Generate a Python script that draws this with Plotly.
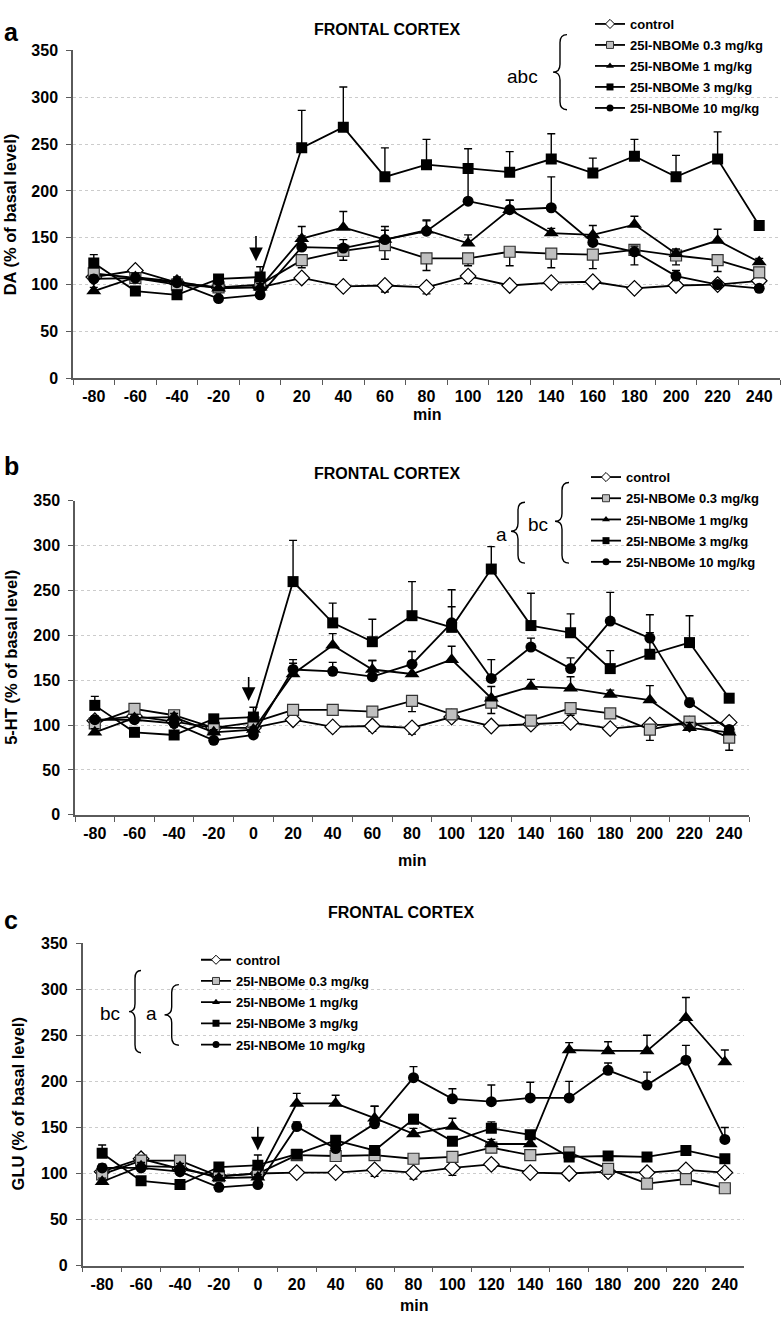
import plotly.graph_objects as go

W, H = 782, 1324

# ---------------- data ----------------
minutes = ["-80", "-60", "-40", "-20", "0", "20", "40", "60", "80", "100",
           "120", "140", "160", "180", "200", "220", "240"]
series_names = ["control", "25I-NBOMe 0.3 mg/kg", "25I-NBOMe 1 mg/kg",
                "25I-NBOMe 3 mg/kg", "25I-NBOMe 10 mg/kg"]

# Panel a: DA
da_control = [108, 115, 102, 97, 97, 107, 98, 99, 97, 109, 99, 102, 103, 96, 99, 100, 104]
da_control_err = [4, 4, 3, 3, 3, 3, 4, 7, 7, 8, 4, 4, 4, 4, 3, 3, 4]
da_03 = [112, 107, 100, 97, 100, 126, 136, 142, 128, 128, 135, 133, 132, 137, 131, 126, 113]
da_03_err = [4, 4, 4, 3, 4, 8, 10, 15, 13, 8, 15, 15, 15, 16, 10, 12, 5]
da_1 = [93, 108, 103, 96, 97, 149, 161, 148, 158, 144, 180, 155, 153, 164, 133, 147, 124]
da_1_err = [4, 4, 5, 4, 4, 13, 17, 10, 10, 9, 10, 5, 10, 9, 5, 12, 4]
da_3 = [123, 93, 89, 106, 108, 246, 268, 215, 228, 224, 220, 234, 219, 237, 215, 234, 163]
da_3_err = [9, 3, 4, 3, 11, 40, 43, 31, 27, 21, 22, 27, 16, 18, 23, 29, 3]
da_10 = [106, 107, 102, 85, 89, 140, 139, 148, 157, 189, 180, 182, 145, 135, 109, 100, 96]
da_10_err = [4, 4, 4, 3, 3, 12, 9, 14, 12, 30, 10, 33, 6, 6, 6, 3, 3]

# Panel b: 5-HT
ht_control = [105, 110, 104, 97, 97, 106, 98, 99, 97, 109, 99, 101, 103, 96, 100, 101, 103]
ht_control_err = [4, 4, 4, 3, 3, 3, 5, 6, 7, 4, 3, 4, 4, 4, 3, 3, 3]
ht_03 = [102, 118, 111, 97, 103, 117, 117, 115, 127, 112, 125, 105, 119, 113, 95, 104, 86]
ht_03_err = [4, 4, 4, 3, 4, 5, 5, 5, 12, 5, 12, 5, 8, 5, 12, 6, 14]
ht_1 = [92, 108, 109, 92, 95, 157, 189, 162, 157, 173, 130, 143, 141, 134, 128, 97, 92]
ht_1_err = [4, 4, 4, 3, 3, 12, 13, 10, 10, 15, 13, 8, 13, 5, 16, 6, 4]
ht_3 = [122, 92, 89, 107, 109, 260, 214, 193, 222, 209, 274, 211, 203, 163, 179, 192, 130]
ht_3_err = [10, 3, 3, 3, 11, 46, 22, 25, 38, 23, 25, 36, 21, 20, 24, 30, 3]
ht_10 = [106, 106, 102, 83, 89, 162, 160, 154, 168, 214, 152, 187, 163, 216, 197, 125, 95]
ht_10_err = [4, 4, 4, 3, 3, 11, 10, 18, 14, 37, 21, 10, 12, 32, 26, 5, 4]

# Panel c: GLU
glu_control = [102, 116, 105, 97, 100, 101, 101, 104, 101, 106, 110, 101, 100, 102, 101, 104, 101]
glu_control_err = [4, 4, 4, 3, 3, 3, 3, 7, 7, 8, 5, 4, 5, 5, 3, 3, 5]
glu_03 = [99, 114, 114, 97, 100, 120, 119, 120, 116, 118, 128, 120, 123, 105, 89, 94, 84]
glu_03_err = [4, 4, 4, 3, 4, 3, 3, 3, 3, 3, 3, 3, 3, 3, 3, 3, 3]
glu_1 = [91, 108, 107, 95, 96, 176, 176, 160, 143, 151, 132, 132, 234, 233, 233, 269, 221]
glu_1_err = [4, 4, 4, 3, 3, 11, 9, 13, 6, 9, 5, 5, 8, 10, 17, 22, 13]
glu_3 = [122, 92, 88, 107, 109, 121, 136, 125, 159, 135, 149, 142, 118, 119, 118, 125, 116]
glu_3_err = [9, 3, 3, 3, 11, 3, 4, 4, 5, 4, 7, 4, 3, 3, 3, 3, 3]
glu_10 = [106, 106, 102, 85, 88, 151, 127, 154, 204, 181, 178, 182, 182, 212, 196, 223, 137]
glu_10_err = [4, 4, 4, 3, 3, 5, 5, 19, 12, 11, 18, 17, 18, 8, 14, 16, 13]

y_ticks = [0, 50, 100, 150, 200, 250, 300, 350]

# ---------------- styling ----------------
FONT = "Liberation Sans, Arial, Helvetica, sans-serif"
styles = [
    dict(symbol="diamond", color="white", size=12, line=dict(color="black", width=1.2)),
    dict(symbol="square", color="#c0c0c0", size=11, line=dict(color="#333333", width=1.2)),
    dict(symbol="triangle-up", color="black", size=13, line=dict(color="black", width=0)),
    dict(symbol="square", color="black", size=11, line=dict(color="black", width=0)),
    dict(symbol="circle", color="black", size=11, line=dict(color="black", width=0)),
]
legend_styles = [
    dict(symbol="diamond", color="white", size=7, line=dict(color="black", width=1)),
    dict(symbol="square", color="#c0c0c0", size=7, line=dict(color="#333333", width=1)),
    dict(symbol="triangle-up", color="black", size=7, line=dict(color="black", width=0)),
    dict(symbol="square", color="black", size=7, line=dict(color="black", width=0)),
    dict(symbol="circle", color="black", size=7, line=dict(color="black", width=0)),
]
# error direction: control and 0.3 go down, others go up
err_down = [True, True, False, False, False]


def px2x(px):
    return px / W


def py2y(py):
    return 1 - py / H


panels = [
    dict(vals=[da_control, da_03, da_1, da_3, da_10],
         errs=[da_control_err, da_03_err, da_1_err, da_3_err, da_10_err],
         xd=(73, 780), yd=(43, 375), ytitle="DA (% of basal level)",
         legend="legend", leg_x=590, leg_y=1, leg_gap=20.6),
    dict(vals=[ht_control, ht_03, ht_1, ht_3, ht_10],
         errs=[ht_control_err, ht_03_err, ht_1_err, ht_3_err, ht_10_err],
         xd=(75, 749), yd=(499.3, 817.3), ytitle="5-HT (% of basal level)",
         legend="legend2", leg_x=586, leg_y=460, leg_gap=20.8),
    dict(vals=[glu_control, glu_03, glu_1, glu_3, glu_10],
         errs=[glu_control_err, glu_03_err, glu_1_err, glu_3_err, glu_10_err],
         xd=(82.7, 744.3), yd=(947.3, 1274), ytitle="GLU (% of basal level)",
         legend="legend3", leg_x=196, leg_y=949, leg_gap=20.8),
]

fig = go.Figure()
layout = dict(
    width=W, height=H, margin=dict(l=0, r=0, t=0, b=0),
    paper_bgcolor="white", plot_bgcolor="white",
    font=dict(family=FONT, color="black"),
    shapes=[], annotations=[],
)

for pi, p in enumerate(panels):
    sfx = "" if pi == 0 else str(pi + 1)
    xa, ya = "x" + sfx, "y" + sfx
    for si in range(5):
        st = styles[si]
        e = p["errs"][si]
        if err_down[si]:
            err = dict(type="data", symmetric=False, array=[0] * len(e), arrayminus=e,
                       color="black", thickness=1.4, width=4)
        else:
            err = dict(type="data", symmetric=False, array=e, arrayminus=[0] * len(e),
                       color="black", thickness=1.4, width=4)
        fig.add_trace(go.Scatter(
            x=minutes, y=p["vals"][si], mode="lines+markers",
            line=dict(color="black", width=1.8),
            marker=st, error_y=err, xaxis=xa, yaxis=ya, showlegend=False,
        ))
    # legend entries
    for si in range(5):
        fig.add_trace(go.Scatter(
            x=[None], y=[None], mode="lines+markers", name=series_names[si],
            line=dict(color="black", width=1.8), marker=legend_styles[si],
            xaxis=xa, yaxis=ya, showlegend=True, legend=p["legend"],
            legendgroup=p["legend"] + str(si),
        ))
    x0, x1 = p["xd"]
    y0, y1 = p["yd"]
    layout["xaxis" + sfx] = dict(
        domain=[px2x(x0), px2x(x1)], anchor=ya, type="category",
        categoryorder="array", categoryarray=minutes, range=[-0.5, 16.5],
        showline=True, linecolor="#5a5a5a", linewidth=1.5, mirror=False,
        ticks="outside", ticklen=5, tickwidth=1.2, tickcolor="#5a5a5a",
        tickson="boundaries", showgrid=False, zeroline=False,
        tickfont=dict(family=FONT, size=16, weight="bold", color="black"),
        ticklabelstandoff=3, fixedrange=True,
    )
    layout["yaxis" + sfx] = dict(
        domain=[py2y(y1), py2y(y0)], anchor=xa, range=[0, 350],
        tickvals=y_ticks, showline=True, linecolor="#5a5a5a", linewidth=1.5,
        ticks="outside", ticklen=5, tickwidth=1.2, tickcolor="#5a5a5a",
        showgrid=True, gridcolor="#cccccc", gridwidth=1, griddash="dot",
        zeroline=False,
        tickfont=dict(family=FONT, size=16, weight="bold", color="black"),
        ticklabelstandoff=5, fixedrange=True,
    )
    layout[p["legend"]] = dict(
        x=px2x(p["leg_x"]), y=py2y(p["leg_y"]), xanchor="left", yanchor="top",
        xref="paper", yref="paper", bgcolor="rgba(0,0,0,0)", borderwidth=0,
        font=dict(family=FONT, size=13, weight="bold", color="black"),
        itemwidth=30, tracegroupgap=p["leg_gap"] - 19.5, itemsizing="trace",
    )
    # y title
    layout["annotations"].append(dict(
        text=p["ytitle"], textangle=-90, xref="paper", yref="paper",
        x=px2x([10, 11, 18][pi]), y=py2y((y0 + y1) / 2), showarrow=False,
        font=dict(family=FONT, size=16.5, weight="bold"), xanchor="center", yanchor="middle",
    ))
    # x title
    layout["annotations"].append(dict(
        text="min", xref="paper", yref="paper",
        x=px2x([427, 412, 414][pi]), y=py2y([412, 864, 1314][pi]), showarrow=False,
        font=dict(family=FONT, size=16, weight="bold"), xanchor="center", yanchor="middle",
    ))
    # panel title
    layout["annotations"].append(dict(
        text="FRONTAL CORTEX", xref="paper", yref="paper",
        x=px2x([386.7, 386.7, 401][pi]), y=py2y([22, 471.7, 916][pi]), showarrow=False,
        font=dict(family=FONT, size=16, weight="bold"), xanchor="center", yanchor="middle",
    ))
    # panel letter
    layout["annotations"].append(dict(
        text=["a", "b", "c"][pi], xref="paper", yref="paper",
        x=px2x(11), y=py2y([24.3, 464.3, 924][pi]), showarrow=False,
        font=dict(family=FONT, size=25, weight="bold"), xanchor="center", yanchor="middle",
    ))
    # injection arrow
    arrow = [(3.9, 153, 125), (3.88, 155, 127), (4.0, 152, 125)][pi]
    scale = (y1 - y0) / 350.0
    layout["annotations"].append(dict(
        x=arrow[0], y=arrow[2], xref=xa, yref=ya, ax=0, ay=-(arrow[1] - arrow[2]) * scale,
        showarrow=True, arrowhead=2, arrowsize=1.7, arrowwidth=1.6, arrowcolor="black", text="",
    ))


def brace(spine_x, top, bottom, tip_x, mid=None):
    if mid is None:
        mid = (top + bottom) / 2
    w = spine_x - tip_x
    r = min(8, (bottom - top) / 6)
    end_x = spine_x + w
    pts = [
        f"M {px2x(end_x)} {py2y(top)}",
        f"Q {px2x(spine_x)} {py2y(top)} {px2x(spine_x)} {py2y(top + r)}",
        f"L {px2x(spine_x)} {py2y(mid - r)}",
        f"Q {px2x(spine_x)} {py2y(mid)} {px2x(tip_x)} {py2y(mid)}",
        f"Q {px2x(spine_x)} {py2y(mid)} {px2x(spine_x)} {py2y(mid + r)}",
        f"L {px2x(spine_x)} {py2y(bottom - r)}",
        f"Q {px2x(spine_x)} {py2y(bottom)} {px2x(end_x)} {py2y(bottom)}",
    ]
    return dict(type="path", path=" ".join(pts), xref="paper", yref="paper",
                line=dict(color="black", width=1.4), layer="above")


def white_box(xa0, ya0, xa1, ya1):
    return dict(type="rect", xref="paper", yref="paper",
                x0=px2x(xa0), x1=px2x(xa1), y0=py2y(ya1), y1=py2y(ya0),
                fillcolor="white", line=dict(width=0), layer="between")


layout["shapes"] += [
    white_box(570, 0, 782, 106),
    white_box(515, 477, 752, 566),
    white_box(128, 952, 385, 1062),
    brace(560, 27, 103, 553, 65),
    brace(518, 500.7, 562.3, 511, 530),
    brace(562, 480.7, 562.3, 555, 520),
    brace(135, 975, 1058.3, 129, 1016.7),
    brace(171.7, 989.3, 1050.7, 164.5, 1020),
]

for txt, cx, cy in [("abc", 522.5, 69.3), ("a", 501.5, 533), ("bc", 538, 523),
                    ("bc", 110, 1019), ("a", 151.7, 1019)]:
    layout["annotations"].append(dict(
        text=txt, xref="paper", yref="paper", x=px2x(cx), y=py2y(cy), showarrow=False,
        font=dict(family=FONT, size=19, color="black"), xanchor="center", yanchor="middle",
        bgcolor="white",
    ))

fig.update_layout(**layout)
fig.write_html(
    "out.html",
    config={"displayModeBar": False},
    post_script="document.body.style.margin='0';document.body.style.overflow='hidden';",
)
